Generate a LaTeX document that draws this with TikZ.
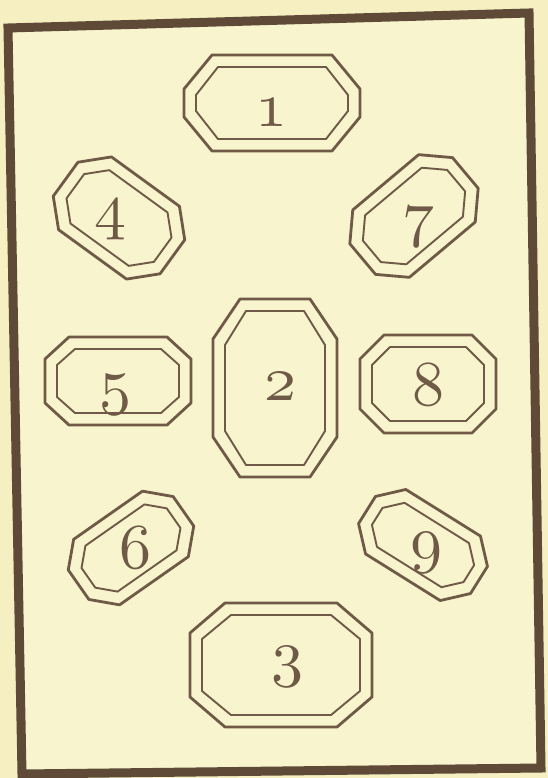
\documentclass[tikz,border=0pt]{standalone}
\DeclareFontFamily{OML}{myosf}{\skewchar\font'177}
\DeclareFontShape{OML}{myosf}{m}{it}{<-> cmmi10}{}
\definecolor{paper}{HTML}{F5EFC2}
\definecolor{paperin}{HTML}{F8F4CD}
\definecolor{ink}{HTML}{6E5A46}
\definecolor{frameink}{HTML}{5E4A37}
\tikzset{
  outerline/.style={draw=ink,line width=2.8pt,line join=round},
  innerline/.style={draw=ink,line width=1.9pt,line join=round},
  frameline/.style={draw=frameink,line width=9pt,line join=miter},
  digit/.style={text=ink,inner sep=0pt,anchor=base,
    font=\fontencoding{OML}\fontfamily{myosf}\fontseries{m}\fontshape{it}\fontsize{64}{64}\selectfont},
}
% #1 cx, #2 cy, #3 half-length, #4 half-width, #5 chamfer along length, #6 chamfer along width, #7 angle
\newcommand\cardoct[7]{%
  \begin{scope}[shift={(#1,#2)},rotate=#7]
    \pgfmathsetmacro\oa{#3}\pgfmathsetmacro\ob{#4}%
    \pgfmathsetmacro\oc{#5}\pgfmathsetmacro\od{#6}%
    \pgfmathsetmacro\ia{#3-12}\pgfmathsetmacro\ib{#4-12}%
    \pgfmathsetmacro\ic{#5-6}\pgfmathsetmacro\id{#6-6}%
    \draw[outerline] ({\oa-\oc},{-\ob}) -- ({\oa},{-\ob+\od}) -- ({\oa},{\ob-\od}) -- ({\oa-\oc},{\ob})
      -- ({-\oa+\oc},{\ob}) -- ({-\oa},{\ob-\od}) -- ({-\oa},{-\ob+\od}) -- ({-\oa+\oc},{-\ob}) -- cycle;
    \draw[innerline] ({\ia-\ic},{-\ib}) -- ({\ia},{-\ib+\id}) -- ({\ia},{\ib-\id}) -- ({\ia-\ic},{\ib})
      -- ({-\ia+\ic},{\ib}) -- ({-\ia},{\ib-\id}) -- ({-\ia},{-\ib+\id}) -- ({-\ia+\ic},{-\ib}) -- cycle;
  \end{scope}}
\begin{document}
\begin{tikzpicture}[x=1pt,y=-1pt]
\useasboundingbox (0,0) rectangle (548,778);
\fill[paper] (0,0) rectangle (548,778);
\coordinate (fa) at (8,28);
\coordinate (fb) at (529,13);
\coordinate (fc) at (541,768);
\coordinate (fd) at (22,774);
\fill[paperin] (fa) -- (fb) -- (fc) -- (fd) -- cycle;
\draw[frameline] (fa) -- (fb) -- (fc) -- (fd) -- cycle;

% cards
\cardoct{272}{103}{88}{48}{28}{34}{0}
\cardoct{275}{388}{62}{89}{27}{40}{0}
\cardoct{281}{665}{91}{62}{35}{30}{0}
\cardoct{118}{381}{73}{44}{24}{22}{0}
\cardoct{428}{384}{68}{49}{24}{24}{0}
\cardoct{119}{218}{66}{45}{24}{24}{-36}
\cardoct{414}{216}{67}{44}{24}{24}{40}
\cardoct{131}{548}{64}{40}{22}{22}{35}
\cardoct{423}{545}{66}{38}{22}{22}{-32}

% numbers
\node[digit] (n1) at (271,127) {1};
\node[digit] (n2) at (280,400) {2};
\node[digit] (n3) at (287,674) {3};
\node[digit] (n4) at (110,227) {4};
\node[digit] (n5) at (115,402) {5};
\node[digit] (n6) at (135,568) {6};
\node[digit] (n7) at (418,234) {7};
\node[digit] (n8) at (428,405) {8};
\node[digit] (n9) at (426,560) {9};
\end{tikzpicture}
\end{document}
